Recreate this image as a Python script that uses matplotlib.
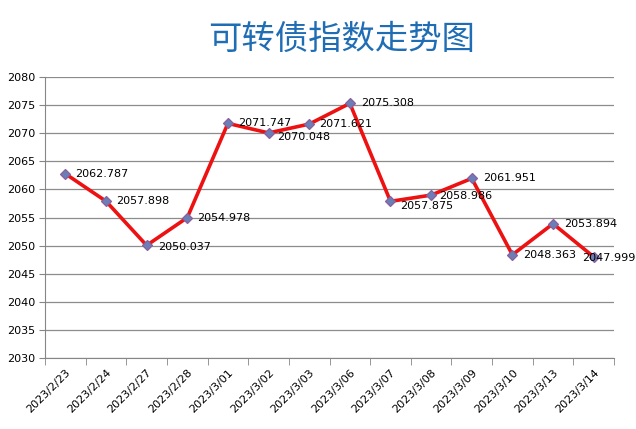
import matplotlib
matplotlib.use('Agg')
import matplotlib.pyplot as plt

plt.rcParams['font.family'] = ['Noto Sans CJK SC', 'DejaVu Sans']

# data
dates = ['2023/2/23', '2023/2/24', '2023/2/27', '2023/2/28', '2023/3/01', '2023/3/02', '2023/3/03',
         '2023/3/06', '2023/3/07', '2023/3/08', '2023/3/09', '2023/3/10', '2023/3/13', '2023/3/14']
values = [2062.787, 2057.898, 2050.037, 2054.978, 2071.747, 2070.048, 2071.621,
          2075.308, 2057.875, 2058.986, 2061.951, 2048.363, 2053.894, 2047.999]
title = '可转债指数走势图'

# label offsets in points (dx, dy), tweaked by hand so labels sit like the original
label_offsets = [(7, 0), (7, 0), (8, -1), (7, 0), (7, 0), (6, -3), (7, 0),
                 (8, 0), (7, -3), (6, -1), (8, 0), (8, 0), (8, 0), (-8, -1)]

fig = plt.figure(figsize=(6.36, 4.29), dpi=100)
ax = fig.add_axes([0.0708, 0.1655, 0.8946, 0.655])

x = range(len(values))
ax.plot(x, values, color='#EE1111', linewidth=2.6, zorder=3,
        marker='D', markersize=5.5, markerfacecolor='#6A7FB5', markeredgecolor='#8A5E9E',
        markeredgewidth=0.9)

for i, v in enumerate(values):
    dx, dy = label_offsets[i]
    ax.annotate('%.3f' % v, (i, v), xytext=(dx, dy), textcoords='offset points',
                ha='left', va='center', fontsize=8, family='DejaVu Sans', zorder=4)

ax.set_xlim(-0.5, len(values) - 0.5)
ax.set_ylim(2030, 2080)
ax.set_yticks(range(2030, 2081, 5))
ax.tick_params(axis='y', labelsize=8, length=4, color='#868686', pad=3)
ax.set_yticklabels([str(t) for t in range(2030, 2081, 5)], family='DejaVu Sans')

# category labels at centers, tick marks at category boundaries
ax.set_xticks(list(x))
ax.set_xticklabels(dates, rotation=45, ha='right', rotation_mode='anchor',
                   fontsize=8, family='DejaVu Sans')
ax.tick_params(axis='x', length=0, pad=7)
ax.set_xticks([i - 0.5 for i in range(len(values) + 1)], minor=True)
ax.tick_params(axis='x', which='minor', length=5, color='#868686')

ax.grid(True, axis='y', color='#8C8C8C', linewidth=0.9)
ax.set_axisbelow(True)
for s in ['top', 'right']:
    ax.spines[s].set_visible(False)
for s in ['left', 'bottom']:
    ax.spines[s].set_color('#868686')

fig.text(0.537, 0.908, title, ha='center', va='center', fontsize=24,
         color='#1F6DB4', fontweight='medium')

fig.savefig('out.png', dpi=100)
